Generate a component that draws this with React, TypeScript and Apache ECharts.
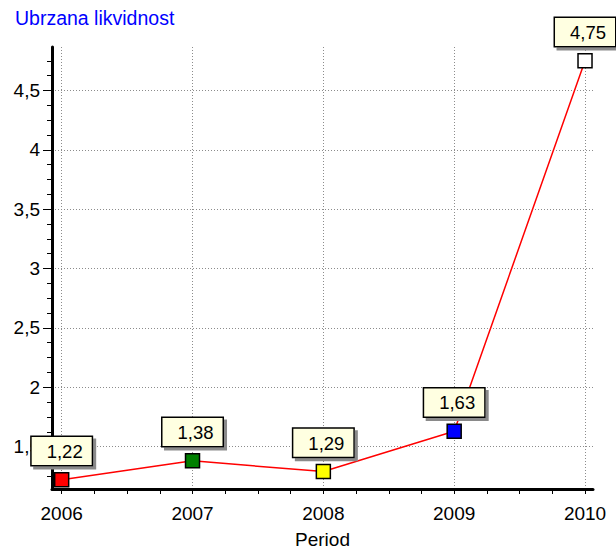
import React, { useEffect, useRef } from "react";
import * as echarts from "echarts";

const years = [2006, 2007, 2008, 2009, 2010];
const values = [1.22, 1.38, 1.29, 1.63, 4.75];
const markerColors = ["#ff0000", "#008000", "#ffff00", "#0000ff", "#ffffff"];
const yMajorTicks = [1.5, 2, 2.5, 3, 3.5, 4, 4.5];
const yMinorTicks = [1.25, 1.375, 1.625, 1.75, 1.875, 2.125, 2.25, 2.375, 2.625, 2.75, 2.875, 3.125, 3.25, 3.375, 3.625, 3.75, 3.875, 4.125, 4.25, 4.375, 4.625, 4.75];
const xMinorTicks = [2006.25, 2006.5, 2006.75, 2007.25, 2007.5, 2007.75, 2008.25, 2008.5, 2008.75, 2009.25, 2009.5, 2009.75];

const FONT = "'Liberation Sans', Arial, sans-serif";
const Y_MIN = 1.143;
const Y_MAX = 4.866;
const X_MIN = 2005.926;
const X_MAX = 2010.061;

const comma = (v: number) => String(v).replace(".", ",");

export default function App() {
  const ref = useRef<HTMLDivElement>(null);
  useEffect(() => {
    document.body.style.margin = "0";
    const chart = echarts.init(ref.current!, undefined, { renderer: "svg" });
    const gridLine = { show: true, lineStyle: { color: "#8c8c8c", type: [1, 2], width: 1 } };
    chart.setOption({
      animation: false,
      title: {
        text: "Ubrzana likvidnost",
        left: 15,
        top: 8,
        padding: 0,
        textStyle: { color: "#0000ff", fontSize: 19.5, fontWeight: "normal", fontFamily: FONT },
      },
      grid: { left: 52, top: 47, right: 23, bottom: 59, containLabel: false },
      xAxis: [
        {
          type: "value",
          min: X_MIN,
          max: X_MAX,
          position: "bottom",
          name: "Period",
          nameLocation: "middle",
          nameGap: 41,
          nameTextStyle: { color: "#000", fontSize: 19, fontFamily: FONT },
          axisLine: { show: true, onZero: false, lineStyle: { color: "#000", width: 3 } },
          axisTick: { show: true, customValues: years, length: 5, lineStyle: { color: "#000", width: 1 } },
          axisLabel: { show: true, customValues: years, margin: 15, color: "#000", fontSize: 19, fontFamily: FONT, formatter: (v: number) => String(Math.round(v)) },
          splitLine: gridLine,
        },
        {
          type: "value",
          min: X_MIN,
          max: X_MAX,
          position: "bottom",
          axisLine: { show: false },
          axisTick: { show: true, customValues: xMinorTicks, length: 5, lineStyle: { color: "#000", width: 1 } },
          axisLabel: { show: false },
          splitLine: { show: false },
        },
      ],
      yAxis: [
        {
          type: "value",
          min: Y_MIN,
          max: Y_MAX,
          position: "left",
          axisLine: { show: true, onZero: false, lineStyle: { color: "#000", width: 3 } },
          axisTick: { show: true, customValues: yMajorTicks, length: 9, lineStyle: { color: "#000", width: 1 } },
          axisLabel: { show: true, customValues: yMajorTicks, margin: 12, color: "#000", fontSize: 19, fontFamily: FONT, formatter: (v: number) => comma(v) },
          splitLine: gridLine,
        },
        {
          type: "value",
          min: Y_MIN,
          max: Y_MAX,
          position: "left",
          axisLine: { show: false },
          axisTick: { show: true, customValues: yMinorTicks, length: 5, lineStyle: { color: "#000", width: 1 } },
          axisLabel: { show: false },
          splitLine: { show: false },
        },
      ],
      series: [
        {
          type: "line",
          xAxisIndex: 0,
          yAxisIndex: 0,
          data: years.map((y, i) => ({
            value: [y, values[i]],
            itemStyle: { color: markerColors[i], borderColor: "#000", borderWidth: 1.5 },
          })),
          symbol: "rect",
          symbolSize: 14,
          lineStyle: { color: "#ff0000", width: 1.5 },
          label: {
            show: true,
            position: "top",
            distance: 7,
            formatter: (p: any) => p.value[1].toFixed(2).replace(".", ","),
            color: "#000",
            fontSize: 18.5,
            fontFamily: FONT,
            lineHeight: 21,
            backgroundColor: "#ffffe1",
            borderColor: "#000",
            borderWidth: 1.5,
            padding: [4, 9, 3, 15],
            shadowColor: "#8a8a8a",
            shadowBlur: 0,
            shadowOffsetX: 3,
            shadowOffsetY: 3,
          },
          z: 3,
        },
      ],
    });
    return () => chart.dispose();
  }, []);
  return <div ref={ref} style={{ width: 616, height: 554 }} />;
}
